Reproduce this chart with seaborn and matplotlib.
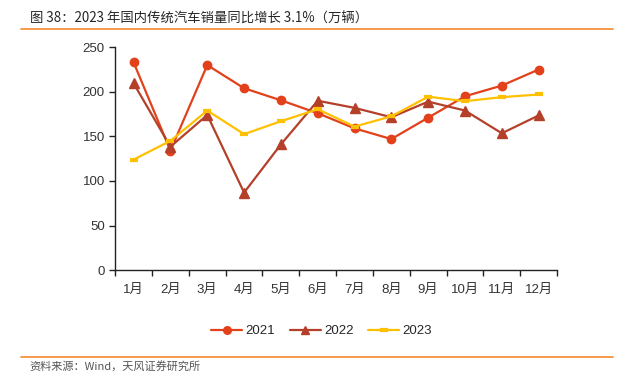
import matplotlib

matplotlib.use("Agg")
import matplotlib.pyplot as plt
import pandas as pd
import seaborn as sns
from matplotlib.lines import Line2D

# 数据
months = ["1月", "2月", "3月", "4月", "5月", "6月", "7月", "8月", "9月", "10月", "11月", "12月"]
sales_2021 = [233, 134, 230, 204, 190.5, 176, 159, 147, 171, 195, 207, 225]
sales_2022 = [209.5, 138.5, 174, 87, 141, 190, 182, 171.5, 189, 179, 153.5, 173.5]
sales_2023 = [124, 145, 179, 152.5, 167, 180.5, 161, 172.5, 194.5, 189.5, 194, 197]
y_ticks = [0, 50, 100, 150, 200, 250]

title = "图 38：2023 年国内传统汽车销量同比增长 3.1%（万辆）"
source = "资料来源：Wind，天风证券研究所"

series = {
    "2021": (sales_2021, "#E2411B", "o", 6, 1),
    "2022": (sales_2022, "#B5402A", "^", 6.5, 1),
    "2023": (sales_2023, "#FFC000", "_", 6, 3),
}

df = pd.DataFrame({"月份": months, "2021": sales_2021, "2022": sales_2022, "2023": sales_2023})
df["x"] = range(len(months))

sns.set_theme(style="ticks")
plt.rcParams["font.family"] = ["Liberation Sans", "Noto Sans CJK SC", "DejaVu Sans"]

fig = plt.figure(figsize=(6.33, 3.81), dpi=100)
ax = fig.add_axes([0.182, 0.291, 0.698, 0.585])

handles = []
for name, (vals, color, marker, ms, mew) in series.items():
    sns.lineplot(
        data=df, x="x", y=name, ax=ax, color=color, linewidth=1.6,
        marker=marker, markersize=ms, markeredgewidth=mew,
        markeredgecolor=color, markerfacecolor=color, label=name, legend=False,
    )
    handles.append(Line2D([], [], color=color, linewidth=1.6, marker=marker,
                          markersize=ms - 0.5, markeredgewidth=mew,
                          markeredgecolor=color, markerfacecolor=color))

ax.set_xlim(-0.5, len(months) - 0.5)
ax.set_ylim(0, 250)
ax.set_yticks(y_ticks)
ax.set_xticks(range(len(months)))
ax.set_xticklabels(months)
ax.set_xticks([i - 0.5 for i in range(len(months) + 1)], minor=True)
ax.tick_params(axis="x", which="major", length=0, pad=10, labelsize=9.5, colors="#333333")
ax.tick_params(axis="x", which="minor", length=4, width=1, color="#222222")
ax.tick_params(axis="y", length=4, width=1, labelsize=9.5, colors="#333333", color="#222222")
ax.set_xlabel("")
ax.set_ylabel("")
for side in ["top", "right"]:
    ax.spines[side].set_visible(False)
for side in ["left", "bottom"]:
    ax.spines[side].set_color("#222222")
    ax.spines[side].set_linewidth(1)

fig.legend(handles, list(series.keys()), loc="center", bbox_to_anchor=(0.508, 0.131),
           ncol=3, frameon=False, fontsize=9.5, handlelength=2.35, columnspacing=1.1,
           handletextpad=0.25)

# 标题与来源
fig.text(0.047, 0.95, title, fontsize=9.6, color="#262626", va="center",
         weight="medium", family=["Noto Sans CJK SC", "DejaVu Sans"])
fig.add_artist(Line2D([0.033, 0.968], [0.9247, 0.9247], color="#F28A2E", linewidth=1.2))
fig.add_artist(Line2D([0.033, 0.968], [0.0638, 0.0638], color="#F28A2E", linewidth=1.2))
fig.text(0.047, 0.0375, source, fontsize=8, color="#555555", va="center",
         family=["Noto Sans CJK SC", "DejaVu Sans"])

fig.savefig("out.png", dpi=100)
